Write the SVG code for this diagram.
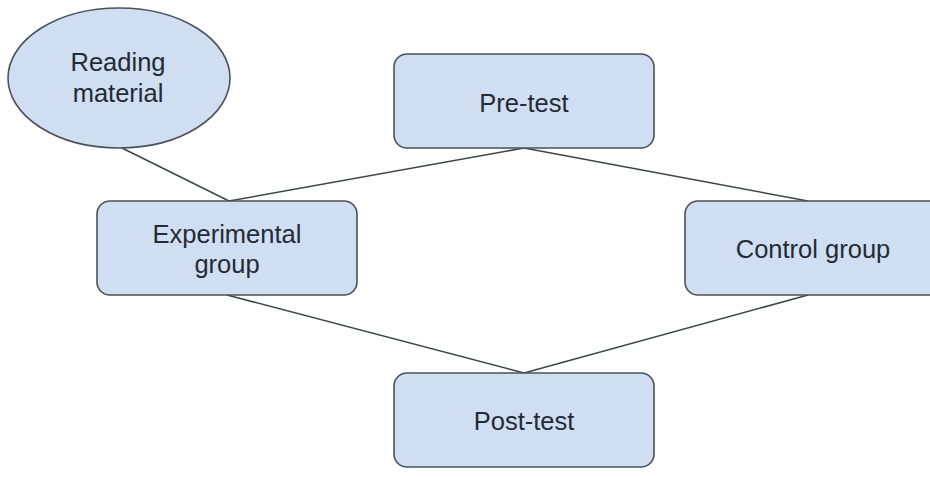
<svg xmlns="http://www.w3.org/2000/svg" width="930" height="477" viewBox="0 0 930 477">
<style>
.n{fill:#cfdef0;stroke:#4b5159;stroke-width:1.6}
.t{font-family:"Liberation Sans",Arial,sans-serif;font-size:25.5px;fill:#232b35;text-anchor:middle}
.c line{stroke:#3f444a;stroke-width:1.5}
</style>
<rect width="930" height="477" fill="#ffffff"/>
<g id="connectors" class="c">
<line x1="122" y1="148" x2="229" y2="201"/>
<line x1="524" y1="148" x2="229" y2="201"/>
<line x1="524" y1="148" x2="808" y2="201"/>
<line x1="227" y1="295" x2="524" y2="373"/>
<line x1="808" y1="295" x2="524" y2="373"/>
</g>
<g id="reading-material">
<ellipse class="n" cx="119" cy="78" rx="111" ry="70"/>
<text class="t" x="118" y="71">Reading</text>
<text class="t" x="118" y="102">material</text>
</g>
<g id="pre-test">
<rect class="n" x="394" y="54" width="260" height="94" rx="13"/>
<text class="t" x="524" y="112">Pre-test</text>
</g>
<g id="experimental-group">
<rect class="n" x="97" y="201" width="260" height="94" rx="13"/>
<text class="t" x="227" y="243">Experimental</text>
<text class="t" x="227" y="273">group</text>
</g>
<g id="control-group">
<rect class="n" x="685" y="201" width="260" height="94" rx="13"/>
<text class="t" x="813" y="258">Control group</text>
</g>
<g id="post-test">
<rect class="n" x="394" y="373" width="260" height="94" rx="13"/>
<text class="t" x="524" y="430">Post-test</text>
</g>
</svg>
